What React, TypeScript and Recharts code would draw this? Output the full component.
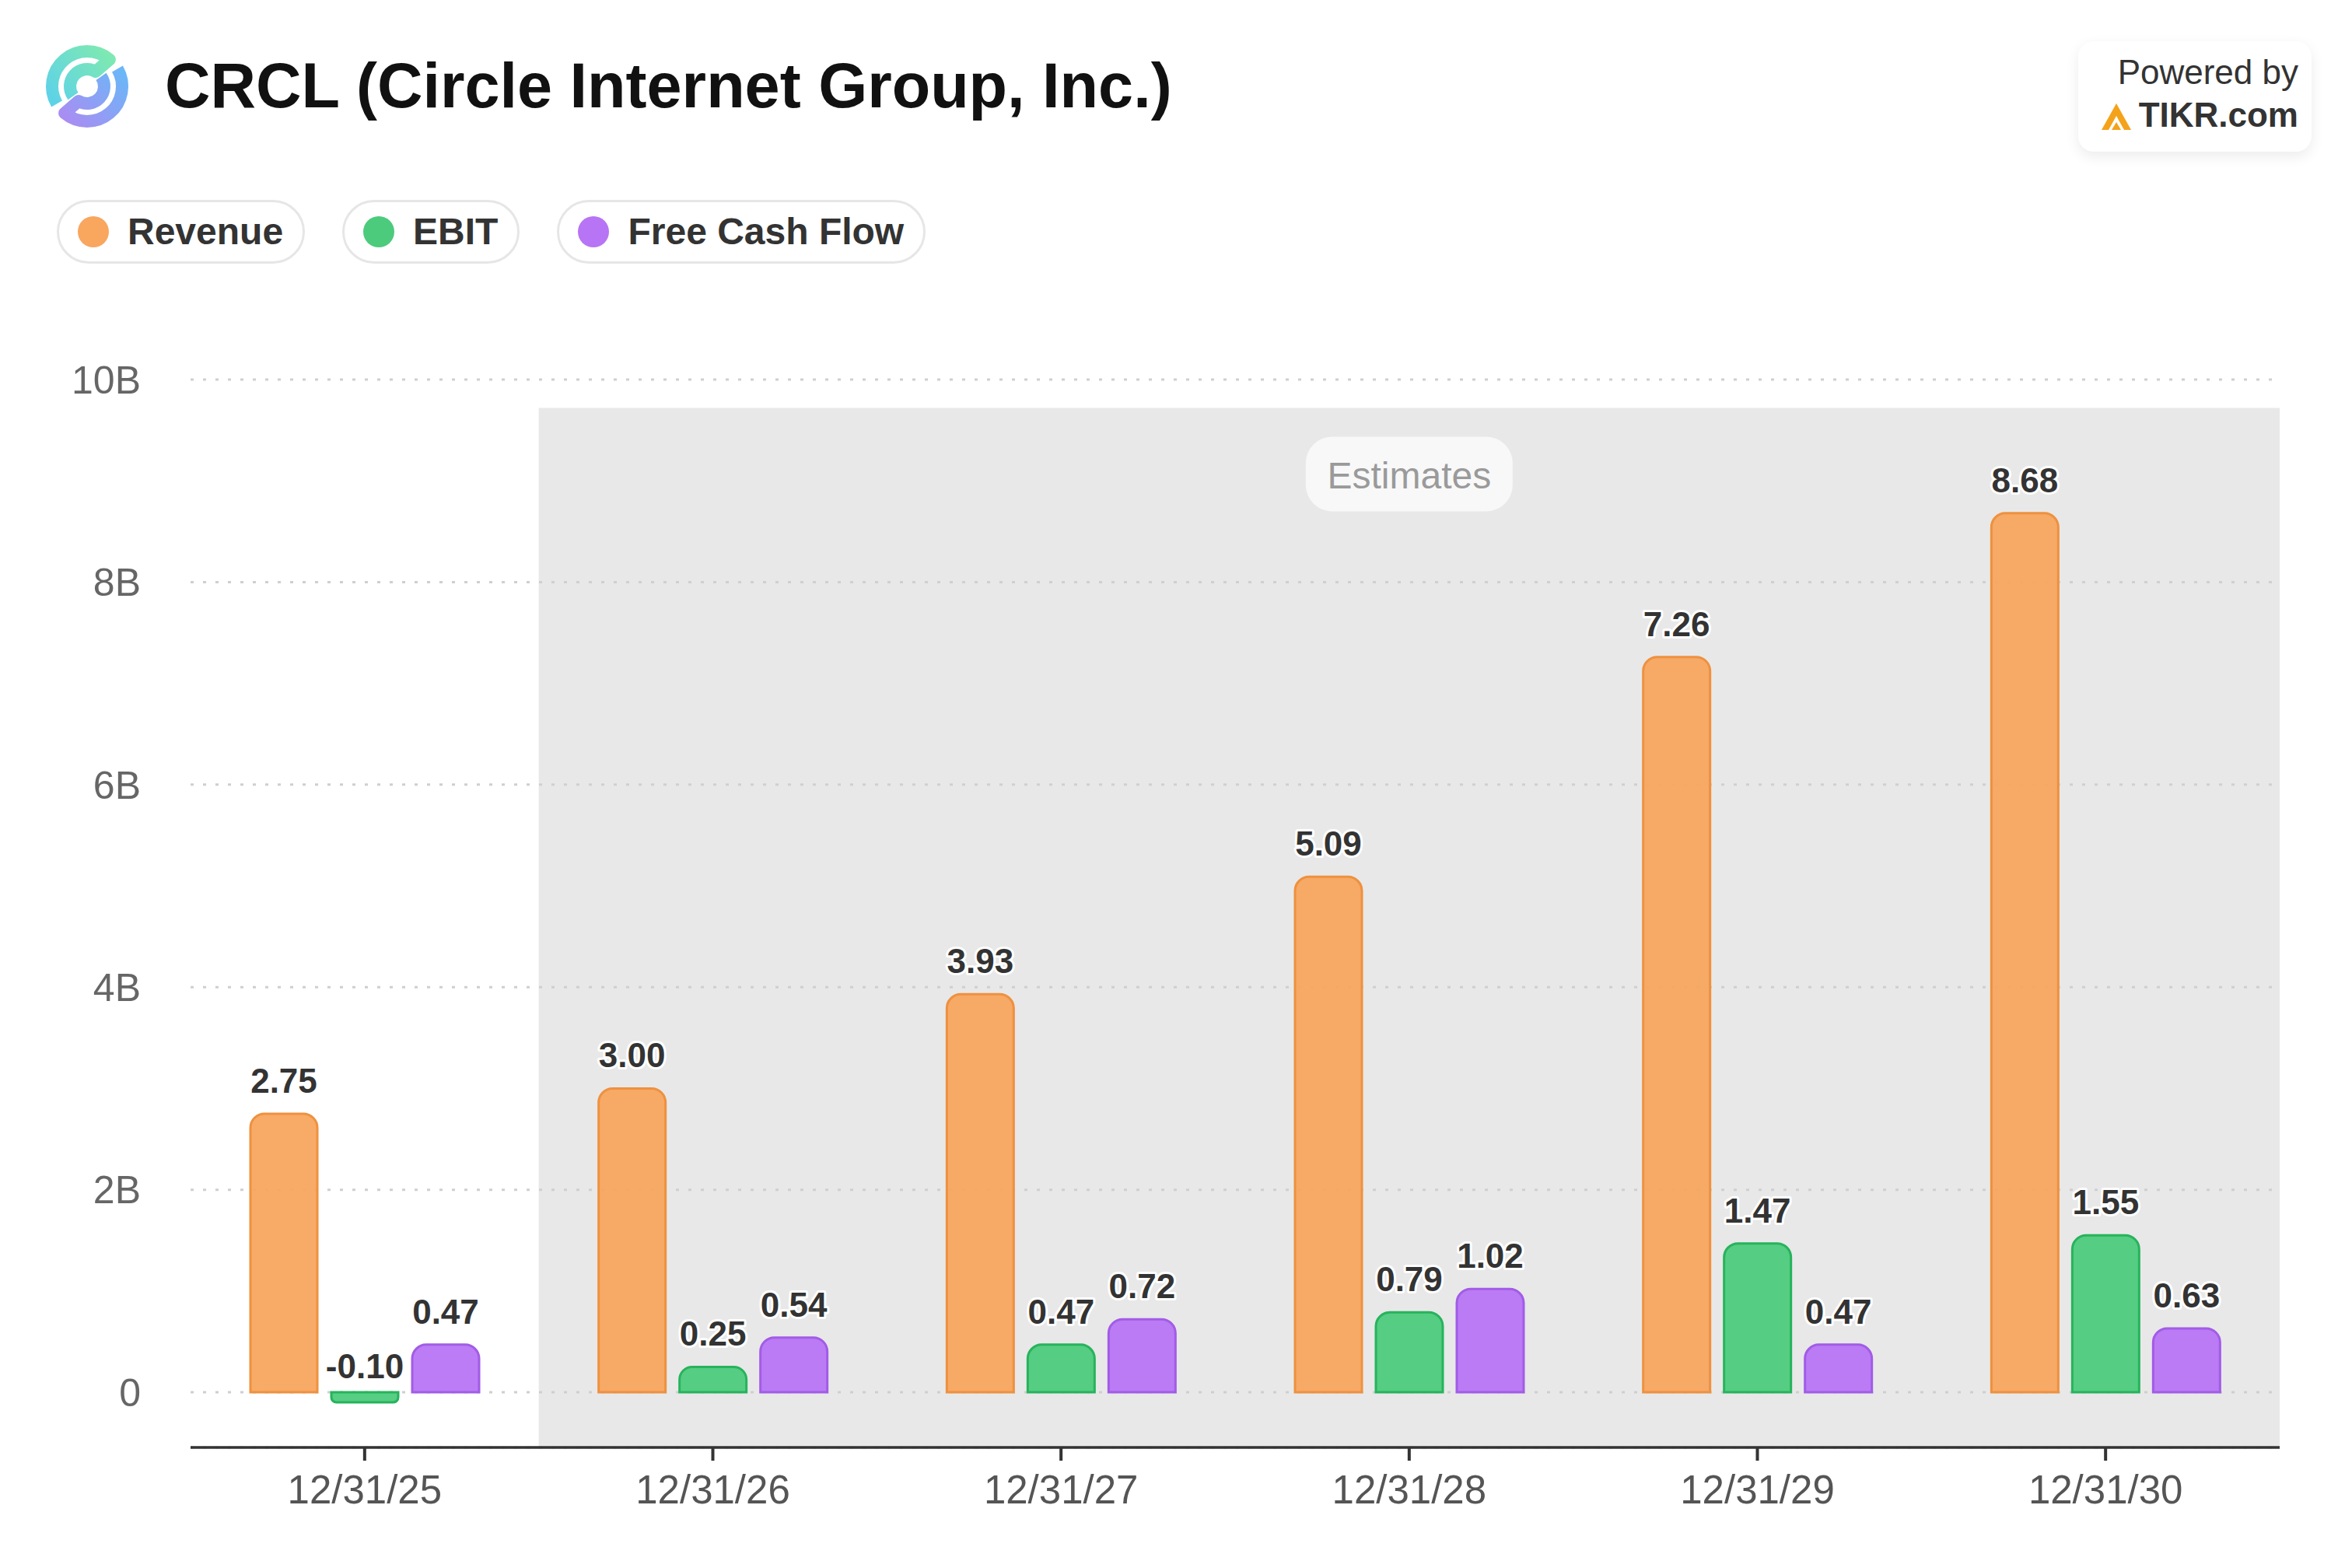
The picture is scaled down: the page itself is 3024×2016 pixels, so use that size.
import React from "react";
import { BarChart, Bar, XAxis, YAxis, CartesianGrid, ReferenceArea, LabelList } from "recharts";

// values in billions
const periods = ["12/31/25", "12/31/26", "12/31/27", "12/31/28", "12/31/29", "12/31/30"];
const revenue = [2.75, 3.0, 3.93, 5.09, 7.26, 8.68];
const ebit = [-0.1, 0.25, 0.47, 0.79, 1.47, 1.55];
const freeCashFlow = [0.47, 0.54, 0.72, 1.02, 0.47, 0.63];
const yTicks = [0, 2, 4, 6, 8, 10];
const estimateFrom = "12/31/26";
const estimateTo = "12/31/30";

const Y_MIN = -0.545;
const Y_MAX = 10;
const ESTIMATE_TOP = 9.72;
const FONT = '"Liberation Sans", Arial, Helvetica, sans-serif';

const series = [
  { key: "revenue", name: "Revenue", fill: "#F8A55D", stroke: "#EE913F", dot: "#F9A65E" },
  { key: "ebit", name: "EBIT", fill: "#4BCB7B", stroke: "#27B35C", dot: "#4CCB7C" },
  { key: "fcf", name: "Free Cash Flow", fill: "#B774F4", stroke: "#A25CE6", dot: "#B774F5" },
];

const data = periods.map((period, i) => ({
  period,
  revenue: revenue[i],
  ebit: ebit[i],
  fcf: freeCashFlow[i],
}));

function renderValueLabel(props: any) {
  const x = Number(props.x);
  const y = Number(props.y);
  const w = Number(props.width);
  const h = Number(props.height);
  const v = Number(props.value);
  const top = h < 0 ? y + h : y;
  return (
    <text
      x={x + w / 2}
      y={top - (v < 0 ? 18 : 27)}
      textAnchor="middle"
      fontSize={44}
      fontWeight={700}
      fontFamily={FONT}
      fill="#333"
      stroke="#fff"
      strokeWidth={6}
      strokeLinejoin="round"
      paintOrder="stroke"
    >
      {v.toFixed(2)}
    </text>
  );
}

function renderEstimatesLabel(props: any) {
  const vb = props.viewBox || {};
  const cx = vb.x + vb.width / 2;
  const top = vb.y + 37;
  return (
    <g>
      <rect x={cx - 133} y={top} width={266} height={96} rx={34} fill="#F8F8F8" />
      <text x={cx} y={top + 67} textAnchor="middle" fontSize={48} fontFamily={FONT} fill="#9A9A9A">
        Estimates
      </text>
    </g>
  );
}

function pt(r: number, deg: number) {
  const a = (deg * Math.PI) / 180;
  return `${(r * Math.cos(a)).toFixed(2)} ${(-r * Math.sin(a)).toFixed(2)}`;
}

function CircleLogo() {
  const R = 45;
  const r = 22;
  const upper = `M ${pt(R, 210)} A ${R} ${R} 0 0 1 ${pt(R, 50)} L ${pt(r, 60)} A ${r} ${r} 0 0 0 ${pt(r, 215)}`;
  const lower = `M ${pt(R, 30)} A ${R} ${R} 0 0 1 ${pt(R, -130)} L ${pt(r, -120)} A ${r} ${r} 0 0 0 ${pt(r, 35)}`;
  return (
    <svg width={114} height={114} viewBox="-57 -57 114 114" style={{ position: "absolute", left: 55, top: 54 }}>
      <defs>
        <linearGradient id="logoA" x1="-40" y1="20" x2="30" y2="-40" gradientUnits="userSpaceOnUse">
          <stop offset="0" stopColor="#5FD3E6" />
          <stop offset="1" stopColor="#7EE9B2" />
        </linearGradient>
        <linearGradient id="logoB" x1="40" y1="-30" x2="-30" y2="40" gradientUnits="userSpaceOnUse">
          <stop offset="0" stopColor="#68B9F8" />
          <stop offset="1" stopColor="#A98DF2" />
        </linearGradient>
      </defs>
      <path d={upper} fill="none" stroke="url(#logoA)" strokeWidth={16} strokeLinejoin="round" />
      <path d={lower} fill="none" stroke="url(#logoB)" strokeWidth={16} strokeLinejoin="round" />
    </svg>
  );
}

function PoweredBy() {
  return (
    <div
      style={{
        position: "absolute",
        left: 2672,
        top: 53,
        width: 300,
        height: 142,
        borderRadius: 20,
        background: "#fff",
        boxShadow: "0 6px 18px rgba(0,0,0,0.08)",
        fontFamily: FONT,
        color: "#333",
      }}
    >
      <div style={{ position: "absolute", right: 17, top: 18, fontSize: 44, lineHeight: "44px", whiteSpace: "nowrap" }}>
        Powered by
      </div>
      <svg width={38} height={34} viewBox="0 0 38 34" style={{ position: "absolute", left: 30, top: 80 }}>
        <path d="M0 34 L19 0 L38 34 L29 34 L19 16 L9 34 Z" fill="#F5A21B" />
        <path d="M13 34 L19 24 L25 34 Z" fill="#F5A21B" />
      </svg>
      <div
        style={{
          position: "absolute",
          right: 17,
          top: 73,
          fontSize: 44,
          lineHeight: "44px",
          fontWeight: 700,
          whiteSpace: "nowrap",
        }}
      >
        TIKR.com
      </div>
    </div>
  );
}

export default function App() {
  return (
    <div
      style={{
        position: "absolute",
        left: 0,
        top: 0,
        width: 3024,
        height: 2016,
        background: "#fff",
        overflow: "hidden",
        fontFamily: FONT,
      }}
    >
      <div style={{ position: "absolute", left: 0, top: 0 }}>
        <BarChart
          width={3024}
          height={2016}
          data={data}
          margin={{ top: 488, right: 93, bottom: 0, left: 0 }}
          barSize={86}
          barGap={18}
        >
          <ReferenceArea
            x1={estimateFrom}
            x2={estimateTo}
            y1={Y_MIN}
            y2={ESTIMATE_TOP}
            fill="#E8E8E8"
            fillOpacity={1}
            stroke="none"
            ifOverflow="visible"
            zIndex={-200}
            label={renderEstimatesLabel}
          />
          <CartesianGrid vertical={false} stroke="#CFCFCF" strokeWidth={3} strokeDasharray="4 12" />
          <XAxis
            dataKey="period"
            height={155}
            interval={0}
            axisLine={{ stroke: "#333", strokeWidth: 3.5 }}
            tickLine={{ stroke: "#333", strokeWidth: 4 }}
            tickSize={17}
            tickMargin={19}
            tick={{ fill: "#555", fontSize: 51, fontFamily: FONT }}
          />
          <YAxis
            type="number"
            domain={[Y_MIN, Y_MAX]}
            ticks={yTicks}
            allowDataOverflow
            width={245}
            axisLine={false}
            tickLine={false}
            tickSize={0}
            tickMargin={64}
            tick={{ fill: "#666", fontSize: 50, fontFamily: FONT }}
            tickFormatter={(v: number) => (v === 0 ? "0" : `${v}B`)}
          />
          {series.map((s) => (
            <Bar
              key={s.key}
              dataKey={s.key}
              name={s.name}
              fill={s.fill}
              fillOpacity={0.94}
              stroke={s.stroke}
              strokeWidth={3}
              radius={[18, 18, 0, 0]}
              isAnimationActive={false}
            >
              <LabelList dataKey={s.key} content={renderValueLabel} />
            </Bar>
          ))}
        </BarChart>
      </div>

      <CircleLogo />
      <div
        style={{
          position: "absolute",
          left: 212,
          top: 70,
          fontSize: 81,
          lineHeight: "81px",
          fontWeight: 700,
          color: "#111",
          whiteSpace: "nowrap",
        }}
      >
        CRCL (Circle Internet Group, Inc.)
      </div>

      <div style={{ position: "absolute", left: 73, top: 257, display: "flex", gap: 48 }}>
        {series.map((s) => (
          <div
            key={s.key}
            style={{
              height: 76,
              border: "3px solid #E6E6E6",
              borderRadius: 41,
              display: "flex",
              alignItems: "center",
              padding: "0 25px 0 24px",
              background: "#fff",
            }}
          >
            <span
              style={{ width: 40, height: 40, borderRadius: 20, background: s.dot, marginRight: 24, display: "block" }}
            />
            <span style={{ fontSize: 48, lineHeight: "48px", fontWeight: 700, color: "#333", whiteSpace: "nowrap" }}>
              {s.name}
            </span>
          </div>
        ))}
      </div>

      <PoweredBy />
    </div>
  );
}
